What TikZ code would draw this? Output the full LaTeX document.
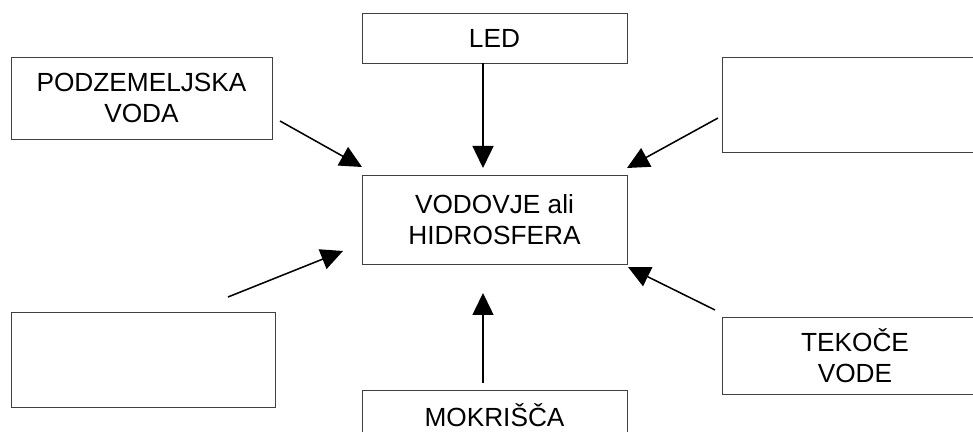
\documentclass[tikz,border=0pt]{standalone}
\usepackage{fontspec}
\setmainfont{Liberation Sans}
\usetikzlibrary{arrows.meta}
\tikzset{
    box/.style={draw=black!75, line width=0.7pt, align=center, inner sep=0pt,
                font=\fontsize{22.4pt}{26.6pt}\selectfont},
    arr/.style={-{Triangle[length=0.66cm, width=0.63cm]}, line width=1.3pt, black},
}

\begin{document}
\begin{tikzpicture}[x=0.03cm, y=-0.03cm]

\useasboundingbox (0,0) rectangle (973,432);
\clip (0,0) rectangle (973,432);

\node[box, minimum width=7.83cm, minimum height=2.46cm] (podz)   at (141.5,98)  {PODZEMELJSKA\\VODA};
\node[box, minimum width=7.95cm, minimum height=1.50cm] (led)    at (494.5,38)  {LED};
\node[box, minimum width=7.98cm, minimum height=2.85cm] (rtop)   at (855,104.5) {};
\node[box, minimum width=7.95cm, minimum height=2.67cm] (hidro)  at (494.5,219.5) {VODOVJE ali\\HIDROSFERA};
\node[box, minimum width=7.92cm, minimum height=2.85cm] (lbot)   at (143,359.5) {};
\node[box, minimum width=7.98cm, minimum height=2.31cm] (tekoce) at (855,355.5) {TEKOČE\\VODE};
\node[box, minimum width=7.95cm, minimum height=1.50cm] (mokr)   at (494.5,415) {MOKRIŠČA};

% konci puscic
\coordinate (p1) at (280,121); \coordinate (q1) at (362,167);
\coordinate (p2) at (483,63);  \coordinate (q2) at (483,168);
\coordinate (p3) at (718,118); \coordinate (q3) at (627,168);
\coordinate (p4) at (228,297); \coordinate (q4) at (343,251);
\coordinate (p5) at (715,310); \coordinate (q5) at (628,267);
\coordinate (p6) at (483,383); \coordinate (q6) at (483,293);

\foreach \i in {1,...,6}{%
    \draw[arr] (p\i) -- (q\i);}

\end{tikzpicture}
\end{document}
